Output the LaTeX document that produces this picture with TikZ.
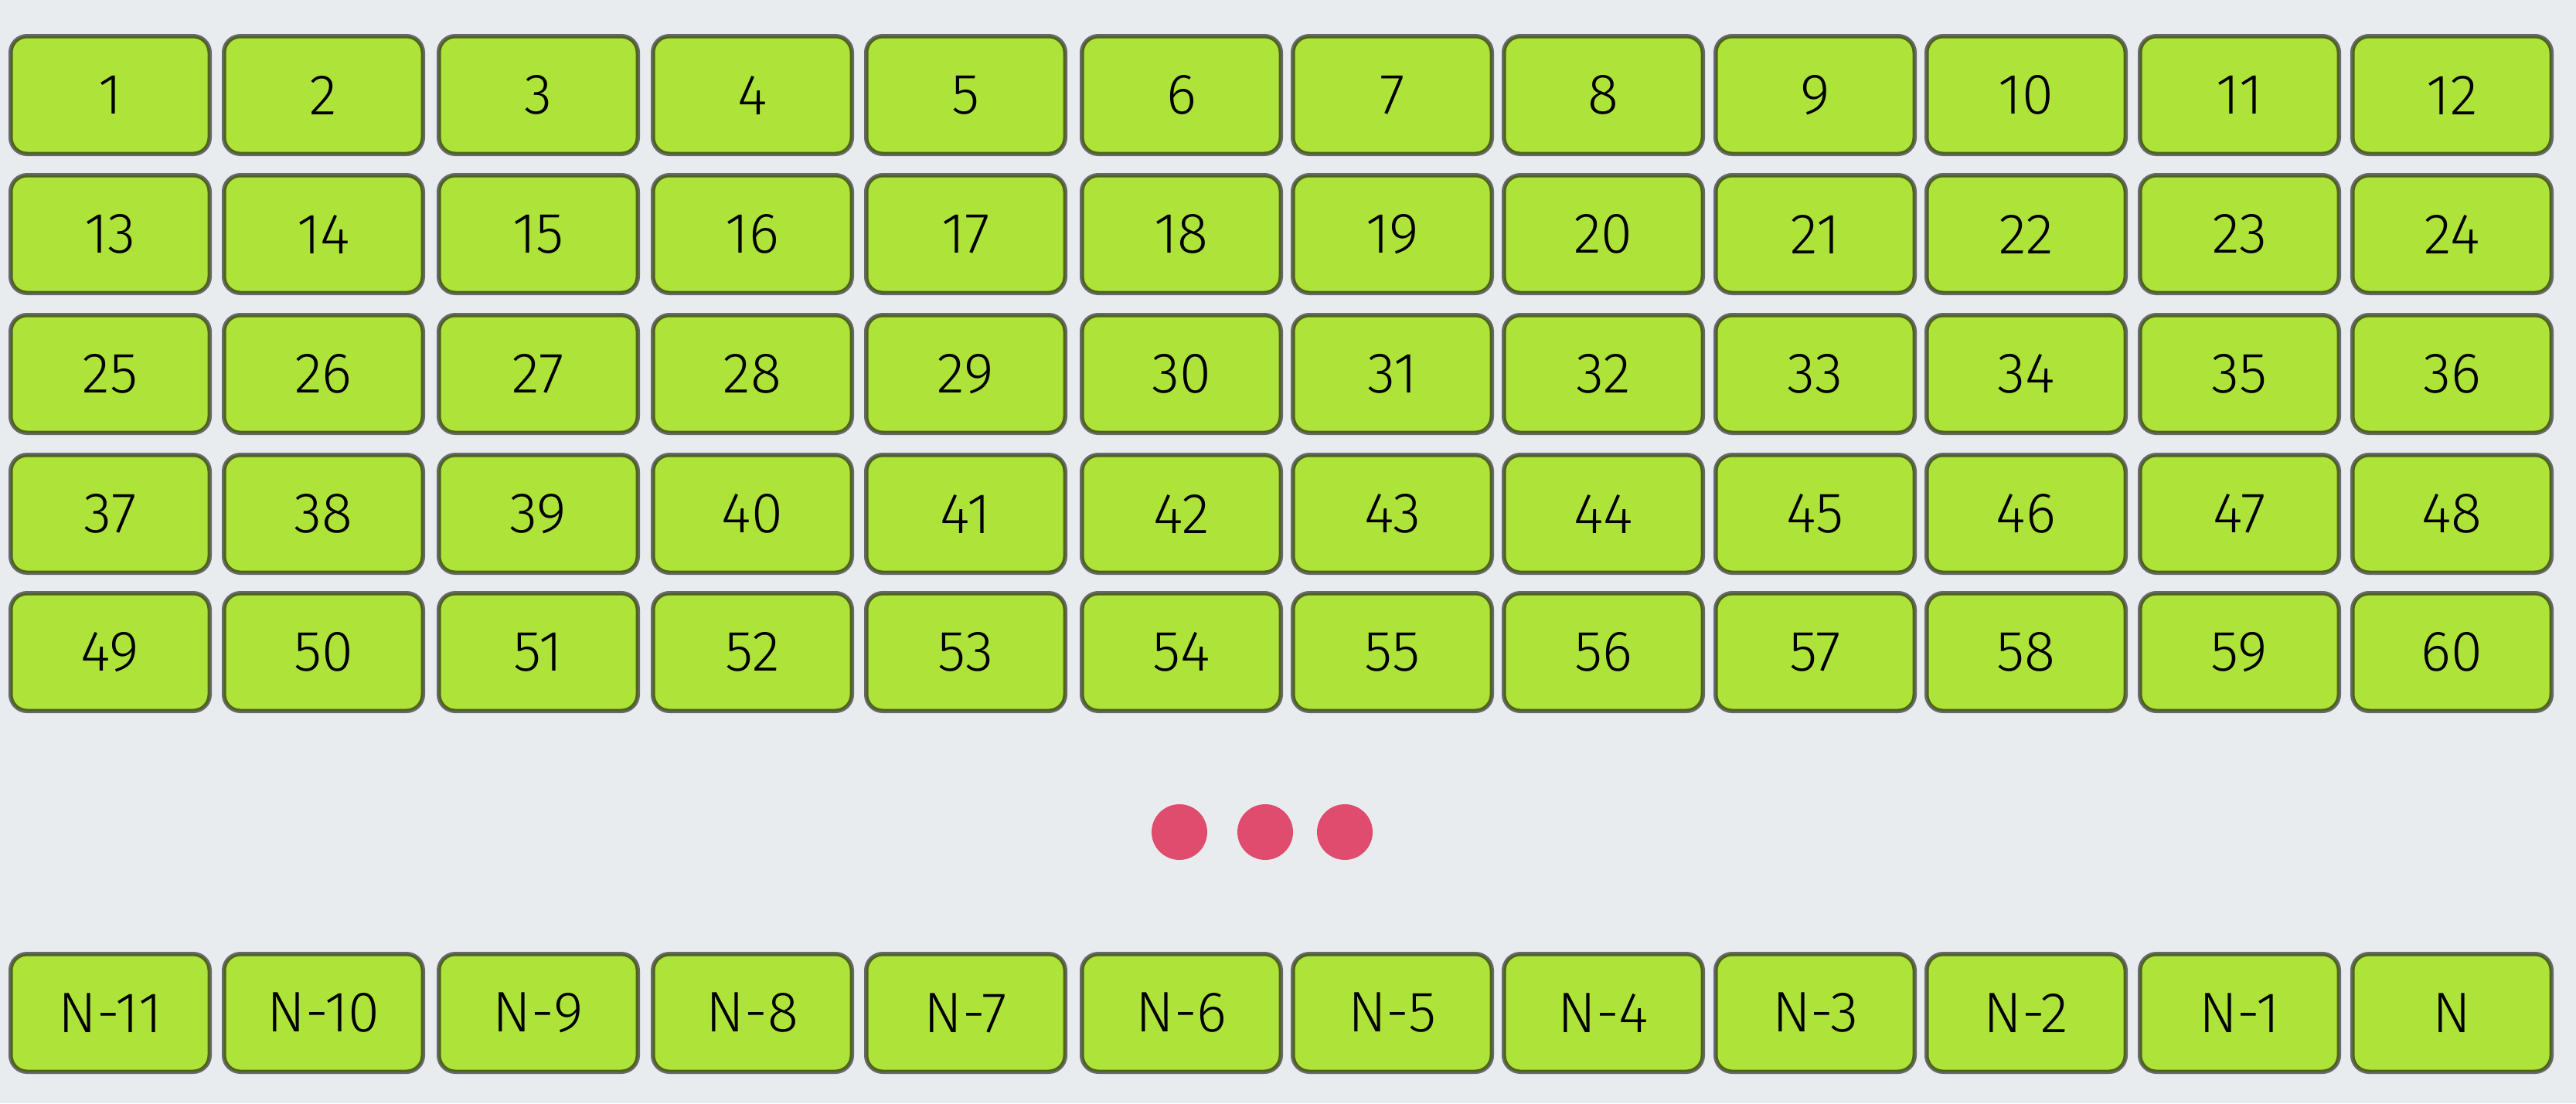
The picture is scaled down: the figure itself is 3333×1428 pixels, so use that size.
\documentclass[tikz,border=0pt]{standalone}
\usepackage{fontspec}
\setmainfont{Fira Sans}[UprightFont=* Light]
\definecolor{bgcol}{RGB}{232,236,239}
\definecolor{cellgreen}{RGB}{174,227,58}
\definecolor{cellolive}{RGB}{78,100,28}
\definecolor{cellgray}{RGB}{104,104,108}
\definecolor{dotred}{RGB}{223,76,109}
\begin{document}
\begin{tikzpicture}[x=1pt,y=-1pt,
  cell/.style={rounded corners=20pt, fill=cellgreen, draw=cellolive, line width=3pt,
    preaction={draw=cellgray, line width=8pt},
    minimum width=255pt, minimum height=150pt, inner sep=0pt,
    font=\fontsize{74}{80}\selectfont, text=black},
  dotmark/.style={circle, fill=dotred, minimum size=72pt, inner sep=0pt}]
\fill[bgcol] (0,0) rectangle (3333,1428);
\useasboundingbox (0,0) rectangle (3333,1428);
\foreach \y [count=\r from 0] in {123,303,484,665,844} {
  \foreach \x [count=\c] in {142.5,418.5,696.5,973.5,1249.5,1528.5,1801.5,2074.5,2348.5,2621.5,2897.5,3172.5} {
    \pgfmathtruncatemacro{\k}{12*\r+\c}
    \node[cell] (n\k) at (\x,\y) {\k};
  }
}
\foreach \x/\t [count=\c] in {142.5/N-11,418.5/N-10,696.5/N-9,973.5/N-8,1249.5/N-7,1528.5/N-6,1801.5/N-5,2074.5/N-4,2348.5/N-3,2621.5/N-2,2897.5/N-1,3172.5/N} {
  \node[cell] (b\c) at (\x,1311) {\t};
}
\node[dotmark] (d1) at (1526,1077) {};
\node[dotmark] (d2) at (1637,1077) {};
\node[dotmark] (d3) at (1740,1077) {};
\end{tikzpicture}
\end{document}
